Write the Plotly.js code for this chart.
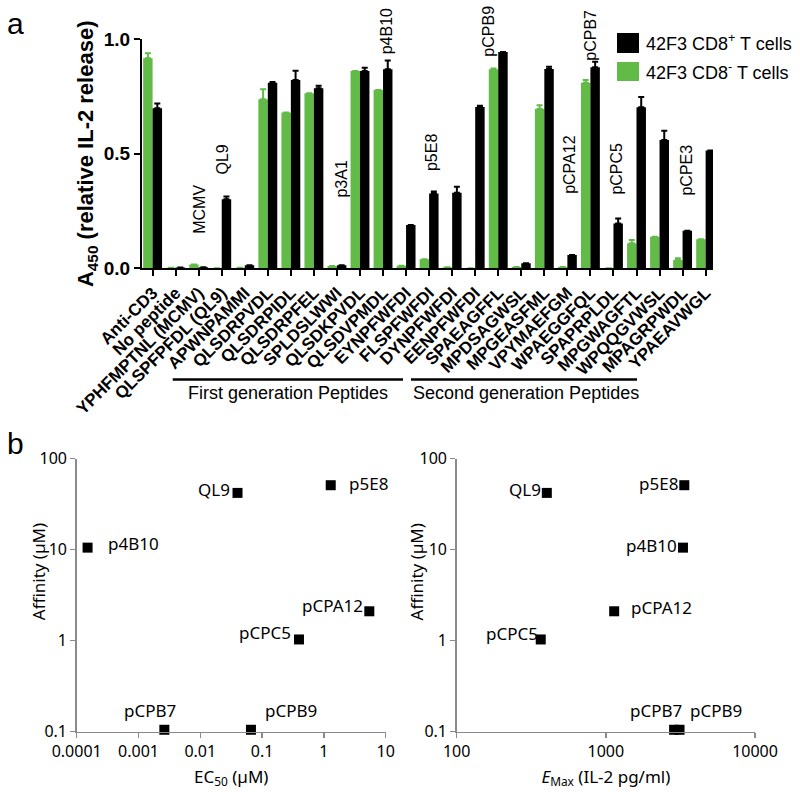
<!DOCTYPE html>
<html>
<head>
<meta charset="utf-8">
<script src="https://cdn.plot.ly/plotly-3.0.1.min.js"></script>
<style>html,body{margin:0;padding:0;background:#fff;}#chart{width:800px;height:792px;}</style>
</head>
<body>
<div id="chart"></div>
<script>
// ---------- Panel a data ----------
const peptides = ['Anti-CD3','No peptide','YPHFMPTNL (MCMV)','QLSPFPFDL (QL9)','APWNPAMMI','QLSDRPVDL','QLSDRPIDL','QLSDRPFEL','SPLDSLWWI','QLSDKPVDL','QLSDVPMDL','EYNPFWFDI','FLSPFWFDI','DYNPFWFDI','EENPFWFDI','SPAEAGFFL','MPDSAGWSL','MPGEASFML','VPYMAEFGM','WPAEGGFQL','SPAPRPLDL','MPGWAGFTL','WPQQGVWSL','MPAGRPWDL','YPAEAVWGL'];
const cd8Pos    = [0.699,0.004,0.005,0.301,0.013,0.810,0.822,0.786,0.013,0.862,0.869,0.189,0.327,0.330,0.704,0.944,0.022,0.870,0.058,0.878,0.196,0.703,0.560,0.164,0.514];
const cd8PosErr = [0.021,0,0,0.012,0,0.004,0.041,0.011,0,0.014,0.038,0,0.008,0.026,0.006,0,0,0.010,0,0.024,0.021,0.045,0.041,0,0];
const cd8Neg    = [0.917,0.002,0.017,0.000,0.002,0.738,0.680,0.764,0.010,0.862,0.779,0.011,0.039,0.005,0.000,0.869,0.006,0.696,0.006,0.810,0.000,0.109,0.138,0.036,0.127];
const cd8NegErr = [0.022,0,0,0,0,0.044,0,0,0,0,0,0,0,0,0,0.003,0,0.016,0,0.012,0,0.015,0,0.008,0];
const seriesNames = ['42F3 CD8<sup>+</sup> T cells','42F3 CD8<sup>-</sup> T cells'];
// peptide tags drawn above the bars: text, category position, centre value (clamped to axis top)
const tagText = ['MCMV','QL9','p3A1','p4B10','p5E8','pCPB9','pCPA12','pCPB7','pCPC5','pCPE3'];
const tagPos  = [2.05,3.03,8.2,10.13,12.11,14.57,18.06,19.0,20.14,23.18];
const tagMid  = [0.259,0.477,0.390,1.0,0.506,1.0,0.455,1.0,0.434,0.430];
const tagLift = [0,0,0,8,0,8,0,4,0,0];   // extra pixels above the axis top

// ---------- Panel b data ----------
const pepNames = ['QL9','p5E8','p4B10','pCPA12','pCPC5','pCPB7','pCPB9'];
const affinity = [41.9,50.9,10.5,2.1,1.03,0.105,0.105];
const ec50     = [0.040,1.29,0.00015,5.43,0.395,0.00262,0.066];
const emax     = [402,3357,3289,1137,366,2868,3119];

const GREEN = '#63bb47';
const W = 800, H = 792;
const px = v => v / W, py = v => 1 - v / H;

const zeros = peptides.map(() => 0);
const traces = [
  {type:'bar', x:peptides, y:cd8Neg, name:'42F3 CD8- T cells', marker:{color:GREEN},
   error_y:{type:'data', array:cd8NegErr, arrayminus:zeros, symmetric:false, color:GREEN, thickness:2, width:3},
   xaxis:'x', yaxis:'y', showlegend:false},
  {type:'bar', x:peptides, y:cd8Pos, name:'42F3 CD8+ T cells', marker:{color:'#000'},
   error_y:{type:'data', array:cd8PosErr, arrayminus:zeros, symmetric:false, color:'#000', thickness:2, width:3},
   xaxis:'x', yaxis:'y', showlegend:false},
  {type:'scatter', mode:'markers', x:ec50, y:affinity, name:'EC50', cliponaxis:false,
   marker:{symbol:'square', size:10, color:'#000', line:{width:0}}, xaxis:'x2', yaxis:'y2', showlegend:false},
  {type:'scatter', mode:'markers', x:emax, y:affinity, name:'EMax', cliponaxis:false,
   marker:{symbol:'square', size:10, color:'#000', line:{width:0}}, xaxis:'x3', yaxis:'y3', showlegend:false}
];

const SANS = 'Liberation Sans, Arial, sans-serif';
const CAL = 'Noto Sans, Lato, sans-serif';
const annotations = [];
const shapes = [];

// panel letters
annotations.push({xref:'paper', yref:'paper', x:px(5), y:py(24), xanchor:'left', yanchor:'middle', text:'a', showarrow:false, font:{family:SANS, size:30, color:'#000'}});
annotations.push({xref:'paper', yref:'paper', x:px(5), y:py(444), xanchor:'left', yanchor:'middle', text:'b', showarrow:false, font:{family:SANS, size:30, color:'#000'}});

// peptide tags
tagText.forEach((t,i) => annotations.push({xref:'x', yref:'y', x:tagPos[i], y:tagMid[i], yshift:tagLift[i], text:t, textangle:-90,
  xanchor:'center', yanchor:'middle', showarrow:false, font:{family:SANS, size:16, color:'#000'}}));

// legend (manual)
const legColors = ['#000', GREEN];
[[33,53],[62,81]].forEach((r,i) => {
  shapes.push({type:'rect', xref:'paper', yref:'paper', x0:px(617), x1:px(639), y0:py(r[1]), y1:py(r[0]), fillcolor:legColors[i], line:{width:0}});
  annotations.push({xref:'paper', yref:'paper', x:px(644), y:py((r[0]+r[1])/2), xanchor:'left', yanchor:'middle', text:seriesNames[i], showarrow:false, font:{family:SANS, size:18, color:'#000'}});
});

// generation brackets
shapes.push({type:'line', xref:'paper', yref:'paper', x0:px(172.7), x1:px(403), y0:py(379.5), y1:py(379.5), line:{color:'#000', width:2.5}});
shapes.push({type:'line', xref:'paper', yref:'paper', x0:px(411), x1:px(637), y0:py(379.5), y1:py(379.5), line:{color:'#000', width:2.5}});
annotations.push({xref:'paper', yref:'paper', x:px(288), y:py(393), text:'First generation Peptides', showarrow:false, font:{family:SANS, size:18, color:'#000'}});
annotations.push({xref:'paper', yref:'paper', x:px(526), y:py(393), text:'Second generation Peptides', showarrow:false, font:{family:SANS, size:18, color:'#000'}});

// scatter labels: [xanchor, xshift, yshift]
const labL = [['right',-6,3],['left',16,2],['left',18,4],['right',-4,6],['right',-6,7],['center',-14,19],['center',40,19]];
const labR = [['right',-4,3],['right',-4,2],['right',-4,2],['left',15,4],['right',-1,6],['center',-18,19],['center',36,19]];
pepNames.forEach((n,i) => {
  annotations.push({xref:'x2', yref:'y2', x:Math.log10(ec50[i]), y:Math.log10(affinity[i]), text:n, showarrow:false,
    xanchor:labL[i][0], yanchor:'middle', xshift:labL[i][1], yshift:labL[i][2], font:{family:CAL, size:17, color:'#000'}});
  annotations.push({xref:'x3', yref:'y3', x:Math.log10(emax[i]), y:Math.log10(affinity[i]), text:n, showarrow:false,
    xanchor:labR[i][0], yanchor:'middle', xshift:labR[i][1], yshift:labR[i][2], font:{family:CAL, size:17, color:'#000'}});
});
// affinity axis titles (placed close to the axis as in the reference)
[38.5, 416.7].forEach(xc => annotations.push({xref:'paper', yref:'paper', x:px(xc), y:py(571.7), text:'Affinity (µM)',
  textangle:-90, showarrow:false, xanchor:'center', yanchor:'middle', font:{family:CAL, size:17, color:'#000'}}));

const GREY = '#8a8a8a';
const logYAxis = () => ({
  type:'log', range:[-1,2], domain:[py(731.7), py(458.5)],
  tickmode:'array', tickvals:[0.1,1,10,100], ticktext:['0.1','1','10','100'],
  showline:true, linecolor:GREY, linewidth:1.5, ticks:'outside', ticklen:5, tickcolor:GREY, tickwidth:1.5,
  showgrid:false, zeroline:false, tickfont:{family:CAL, size:16, color:'#000'}
});

const layout = {
  width:W, height:H, margin:{l:0, r:0, t:0, b:0}, paper_bgcolor:'#fff', plot_bgcolor:'rgba(0,0,0,0)',
  barmode:'group', bargap:0.18, bargroupgap:0,
  showlegend:false,
  xaxis:{domain:[px(142), px(713)], range:[-0.46, 24.32], type:'category', tickangle:-45,
    showline:true, linecolor:'#000', linewidth:2, ticks:'outside', ticklen:6, tickwidth:2, tickcolor:'#000',
    tickfont:{family:SANS, size:17, color:'#000', weight:'bold'}, showgrid:false, zeroline:false, anchor:'y'},
  yaxis:{domain:[py(268.3), py(39.3)], range:[0,1.0], tickvals:[0,0.5,1.0], ticktext:['0.0','0.5','1.0'],
    showline:true, linecolor:'#000', linewidth:2, ticks:'outside', ticklen:6, tickwidth:2, tickcolor:'#000',
    tickfont:{family:SANS, size:19, color:'#000', weight:'bold'}, showgrid:false, zeroline:false, anchor:'x',
    title:{text:'A<sub>450</sub> (relative IL-2 release)', font:{family:SANS, size:22, color:'#000', weight:'bold'}, standoff:4}},
  xaxis2:{type:'log', range:[-4,1], domain:[px(76.7), px(385.7)], anchor:'y2',
    tickmode:'array', tickvals:[0.0001,0.001,0.01,0.1,1,10], ticktext:['0.0001','0.001','0.01','0.1','1','10'],
    showline:true, linecolor:GREY, linewidth:1.5, ticks:'outside', ticklen:5, tickcolor:GREY, tickwidth:1.5,
    showgrid:false, zeroline:false, tickfont:{family:CAL, size:16, color:'#000'},
    title:{text:'EC<sub>50</sub> (µM)', font:{family:CAL, size:17, color:'#000'}, standoff:9}},
  yaxis2:Object.assign(logYAxis(), {anchor:'x2'}),
  xaxis3:{type:'log', range:[2,4], domain:[px(456.7), px(755)], anchor:'y3',
    tickmode:'array', tickvals:[100,1000,10000], ticktext:['100','1000','10000'],
    showline:true, linecolor:GREY, linewidth:1.5, ticks:'outside', ticklen:5, tickcolor:GREY, tickwidth:1.5,
    showgrid:false, zeroline:false, tickfont:{family:CAL, size:16, color:'#000'},
    title:{text:'<i>E</i><sub>Max</sub> (IL-2 pg/ml)', font:{family:CAL, size:17, color:'#000'}, standoff:9}},
  yaxis3:Object.assign(logYAxis(), {anchor:'x3'}),
  annotations:annotations,
  shapes:shapes
};

Plotly.newPlot('chart', traces, layout, {staticPlot:true, displayModeBar:false});
</script>
</body>
</html>
